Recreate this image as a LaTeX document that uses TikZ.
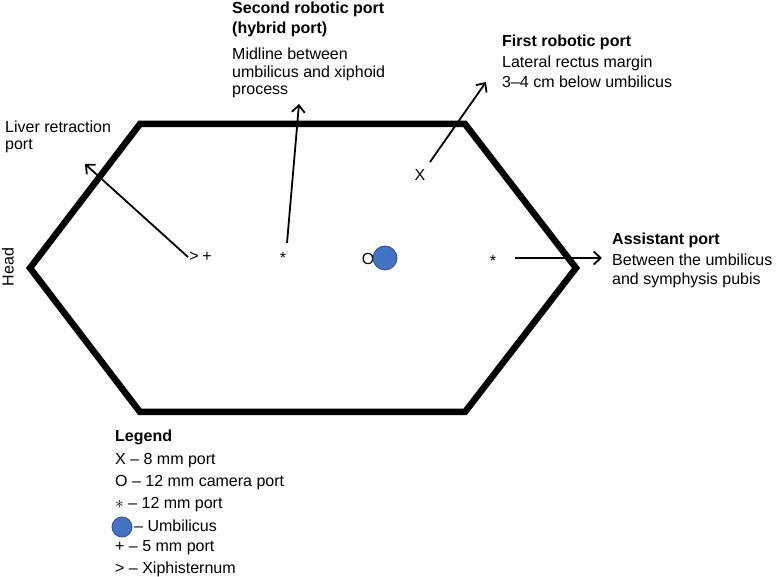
\documentclass[tikz,border=0pt]{standalone}
\usepackage{fontspec}
\setmainfont{Liberation Sans}
\usetikzlibrary{arrows.meta}
\definecolor{umbfill}{HTML}{4472C4}
\definecolor{umbdraw}{HTML}{2F528F}
\begin{document}
\begin{tikzpicture}[x=1pt,y=-1pt,
  hex/.style={line width=6.5pt, line join=miter},
  arr/.style={line width=1.8pt, -{Straight Barb[length=7pt,width=13pt,line width=1.8pt]}},
  lbl/.style={font=\fontsize{16}{20}\selectfont, anchor=west, inner sep=0pt, align=left},
  hd/.style={font=\fontsize{16}{20}\selectfont\bfseries, anchor=west, inner sep=0pt, align=left},
  mk/.style={font=\fontsize{16}{18}\selectfont, inner sep=0pt},
  umb/.style={circle, fill=umbfill, draw=umbdraw, line width=0.8pt, inner sep=0pt}]
\useasboundingbox (0,0) rectangle (777,577);

% hexagon
\draw[hex] (30,268) -- (140,124) -- (465,124) -- (576,268) -- (465,412) -- (140,412) -- cycle;

% head label
\node[font=\fontsize{16}{18}\selectfont, rotate=90, inner sep=0pt] (head) at (8,267) {Head};

% markers
\node[mk] (xiph) at (194,257) {>};
\node[mk] (plus) at (207,257) {+};
\node[mk] (ast1) at (283,258) {*};
\node[mk] (xport) at (420,175) {X};
\node[mk] (oport) at (368,259) {O};
\node[umb, minimum size=24pt] (umbil) at (385,258) {};
\node[mk] (ast2) at (493,261) {*};

% arrow coordinates
\coordinate (l0) at (188,257); \coordinate (l1) at (85,164);
\coordinate (s0) at (287,243); \coordinate (s1) at (299,104);
\coordinate (f0) at (430,162); \coordinate (f1) at (486,82);
\coordinate (a0) at (515,258); \coordinate (a1) at (602,258);
\draw[arr] (l0) -- (l1);
\draw[arr] (s0) -- (s1);
\draw[arr] (f0) -- (f1);
\draw[arr] (a0) -- (a1);

% labels
\node[lbl] (liver1) at (5,127) {Liver retraction};
\node[lbl] (liver2) at (5,146) {port};

\node[hd] (sec1) at (232,9) {Second robotic port};
\node[hd] (sec2) at (232,29) {(hybrid port)};
\node[lbl] (sec3) at (232,54) {Midline between};
\node[lbl] (sec4) at (232,73) {umbilicus and xiphoid};
\node[lbl] (sec5) at (232,92) {process};

\node[hd] (fir1) at (502,42) {First robotic port};
\node[lbl] (fir2) at (502,63) {Lateral rectus margin};
\node[lbl] (fir3) at (502,82) {3–4 cm below umbilicus};

\node[hd] (ass1) at (612,240) {Assistant port};
\node[lbl] (ass2) at (612,260) {Between the umbilicus};
\node[lbl] (ass3) at (612,280) {and symphysis pubis};

% legend
\node[hd] (leg) at (115,437) {Legend};
\node[lbl] (leg1) at (115,461) {X – 8 mm port};
\node[lbl] (leg2) at (115,483) {O – 12 mm camera port};
\node[lbl] (leg3) at (115,505) {$\ast$ – 12 mm port};
\node[umb, minimum size=20pt] (legc) at (122,527) {};
\node[lbl] (leg4) at (134,526) {– Umbilicus};
\node[lbl] (leg5) at (115,548) {+ – 5 mm port};
\node[lbl] (leg6) at (115,569) {> – Xiphisternum};
\end{tikzpicture}
\end{document}
